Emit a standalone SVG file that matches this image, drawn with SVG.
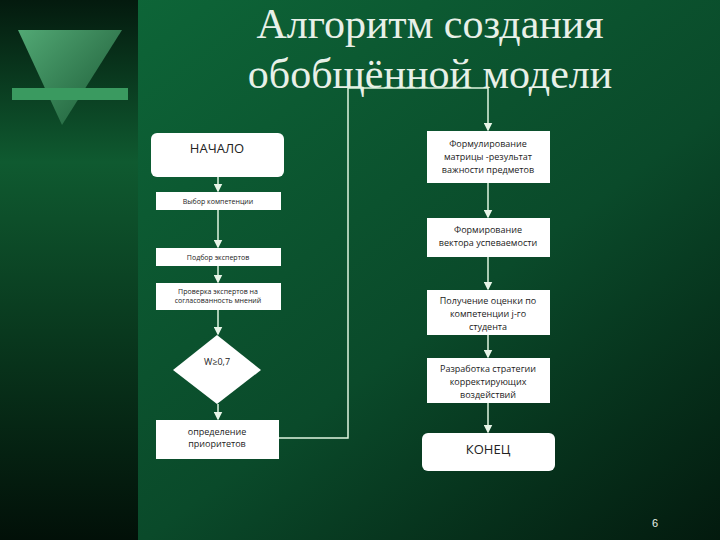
<svg xmlns="http://www.w3.org/2000/svg" width="720" height="540" viewBox="0 0 720 540">
<defs>
<linearGradient id="bg" x1="0" y1="0" x2="1" y2="1"><stop offset="0" stop-color="#0e6a3a"/><stop offset="0.6" stop-color="#0a4a2a"/><stop offset="1" stop-color="#031a0e"/></linearGradient>
<linearGradient id="side" x1="0" y1="0" x2="0" y2="1"><stop offset="0" stop-color="#041a0e"/><stop offset="0.3" stop-color="#0f5a30"/><stop offset="1" stop-color="#021008"/></linearGradient>
<linearGradient id="tri" x1="0" y1="0" x2="1" y2="1"><stop offset="0" stop-color="#5fbf85"/><stop offset="1" stop-color="#1c5a36"/></linearGradient>
<marker id="ar" markerWidth="6" markerHeight="6" refX="5" refY="3" orient="auto"><path d="M0,0 L6,3 L0,6 z" fill="#e8f5e8"/></marker>
<style>
.b{fill:#fff}
.t{font-family:"Open Sans","DejaVu Sans",sans-serif;fill:#222;text-anchor:middle}
.c{stroke:#dff5df;stroke-width:1.5;fill:none}
</style>
</defs>
<rect width="720" height="540" fill="url(#bg)"/>
<rect width="138" height="540" fill="url(#side)"/>
<polygon points="18,30 122,30 62,125" fill="url(#tri)" opacity="0.85"/>
<rect x="12" y="88" width="116" height="12" fill="#3a9a60"/>
<g font-family="Liberation Serif,serif" font-size="42" fill="#e8f0e8" text-anchor="middle">
<text x="430" y="38">Алгоритм создания</text>
<text x="430" y="88">обобщённой модели</text>
</g>
<g id="connectors">
<path class="c" d="M218,177 V191" marker-end="url(#ar)"/>
<path class="c" d="M218,210 V247" marker-end="url(#ar)"/>
<path class="c" d="M218,266 V282" marker-end="url(#ar)"/>
<path class="c" d="M218,310 V334" marker-end="url(#ar)"/>
<path class="c" d="M218,404 V419" marker-end="url(#ar)"/>
<path class="c" d="M279,438 H348 V88 H488 V130" marker-end="url(#ar)"/>
<path class="c" d="M488,183 V217" marker-end="url(#ar)"/>
<path class="c" d="M488,257 V289" marker-end="url(#ar)"/>
<path class="c" d="M488,335 V357" marker-end="url(#ar)"/>
<path class="c" d="M488,403 V432" marker-end="url(#ar)"/>
</g>
<g id="start"><rect class="b" x="151" y="133" width="133" height="44" rx="6"/><text class="t" x="217" y="153" font-size="13">НАЧАЛО</text></g>
<g id="n1"><rect class="b" x="156" y="192" width="125" height="18"/><text class="t" x="218" y="204" font-size="7">Выбор компетенции</text></g>
<g id="n2"><rect class="b" x="156" y="248" width="125" height="18"/><text class="t" x="218" y="260" font-size="7">Подбор экспертов</text></g>
<g id="n3"><rect class="b" x="156" y="283" width="125" height="27"/><text class="t" x="218" y="294" font-size="7">Проверка экспертов на</text><text class="t" x="218" y="303" font-size="7">согласованность мнений</text></g>
<g id="d"><polygon class="b" points="217,335 261,370 217,404 173,370"/><text class="t" x="217" y="365" font-size="9">W≥0,7</text></g>
<g id="n4"><rect class="b" x="156" y="420" width="123" height="39"/><text class="t" x="217" y="435" font-size="9">определение</text><text class="t" x="217" y="447" font-size="9">приоритетов</text></g>
<g id="r1"><rect class="b" x="427" y="131" width="123" height="52"/><text class="t" x="488" y="147" font-size="9">Формулирование</text><text class="t" x="488" y="160" font-size="9">матрицы -результат</text><text class="t" x="488" y="173" font-size="9">важности предметов</text></g>
<g id="r2"><rect class="b" x="427" y="218" width="123" height="39"/><text class="t" x="488" y="233" font-size="9">Формирование</text><text class="t" x="488" y="246" font-size="9">вектора успеваемости</text></g>
<g id="r3"><rect class="b" x="427" y="290" width="123" height="45"/><text class="t" x="488" y="304" font-size="9">Получение оценки по</text><text class="t" x="488" y="317" font-size="9">компетенции j-го</text><text class="t" x="488" y="330" font-size="9">студента</text></g>
<g id="r4"><rect class="b" x="427" y="358" width="123" height="45"/><text class="t" x="488" y="372" font-size="9">Разработка стратегии</text><text class="t" x="488" y="385" font-size="9">корректирующих</text><text class="t" x="488" y="398" font-size="9">воздействий</text></g>
<g id="end"><rect class="b" x="422" y="433" width="133" height="38" rx="6"/><text class="t" x="488" y="454" font-size="13">КОНЕЦ</text></g>
<text x="655" y="527" font-family="Liberation Sans,sans-serif" font-size="11" fill="#e8f0e8" text-anchor="middle">6</text>
</svg>
